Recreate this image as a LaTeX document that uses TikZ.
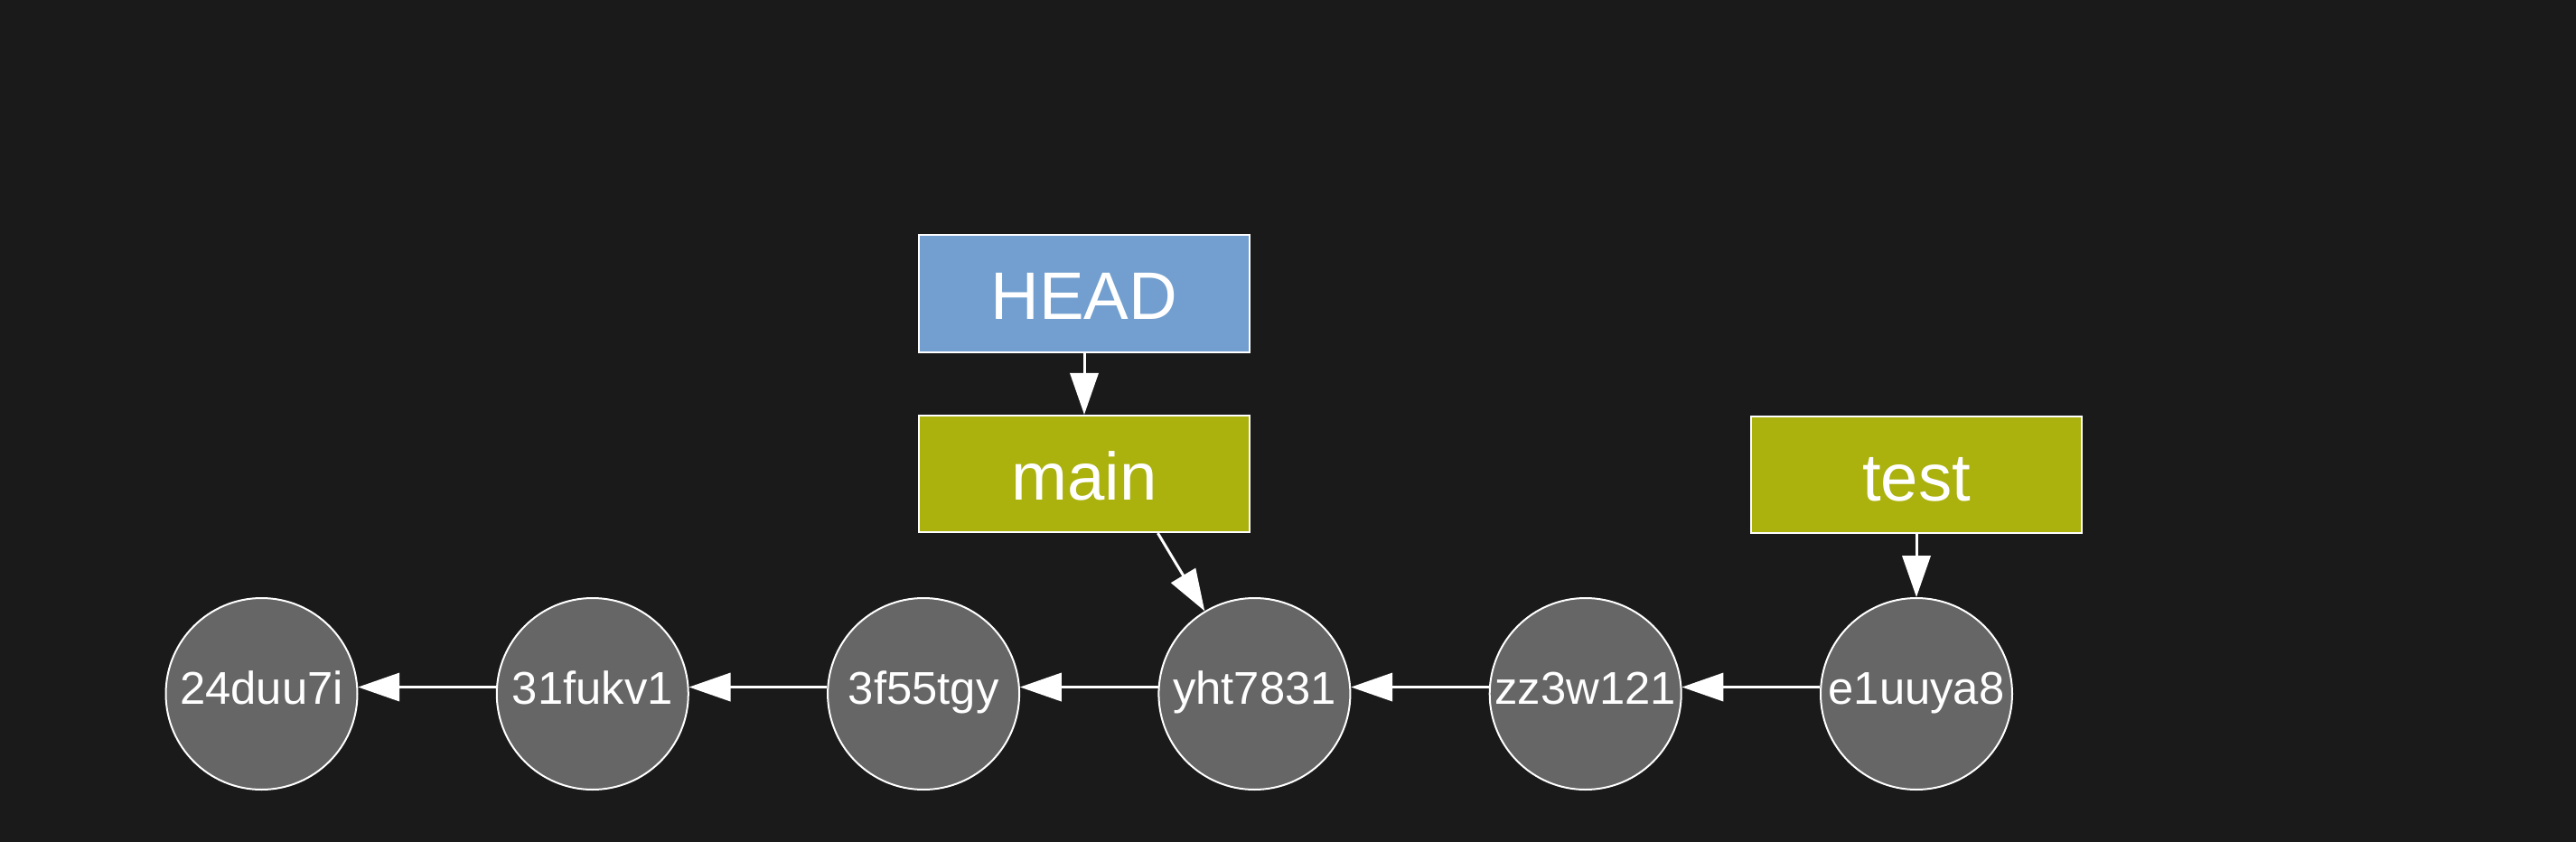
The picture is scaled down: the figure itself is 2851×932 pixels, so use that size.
\documentclass[tikz,border=0pt]{standalone}
\usepackage{fontspec}
\setmainfont{Liberation Sans}
\usetikzlibrary{arrows.meta}
\definecolor{bgdark}{HTML}{1A1A1A}
\definecolor{commitgray}{HTML}{666666}
\definecolor{headblue}{HTML}{729FCF}
\definecolor{brancholive}{HTML}{ABB10D}

\begin{document}
\begin{tikzpicture}[x=0.25pt,y=0.25pt,yscale=-1,xscale=1,
    commit/.style={circle, draw=white, fill=commitgray, line width=0.5pt, minimum size=53pt, inner sep=0pt, text=white, font=\fontsize{12.7}{14}\selectfont, text height=8.9pt, text depth=3pt},
    refbox/.style={rectangle, draw=white, fill=#1, line width=0.5pt, minimum width=91.5pt, minimum height=32.3pt, inner sep=0pt, text=white, font=\fontsize{18.6}{21}\selectfont, text height=17.6pt, text depth=3.3pt},
    link/.style={draw=white, line width=0.75pt, -{Triangle[length=11.5pt,width=7.8pt]}}]
    %set diagram size: 2851 x 932
    \fill [bgdark] (0,0) rectangle (2851,932);

    %Shape: Rectangles (refs)
    \node [refbox=headblue] (HEAD) at (1200,325) {HEAD};
    \node [refbox=brancholive] (main) at (1200,524.5) {main};
    \node [refbox=brancholive] (test) at (2121,525.5) {test};

    %Shape: Circles (commits)
    \node [commit] (c24duu7i) at (289.5,768) {24duu7i};
    \node [commit] (c31fukv1) at (655.8,768) {31fukv1};
    \node [commit] (c3f55tgy) at (1022.1,768) {3f55tgy};
    \node [commit] (yht7831) at (1388.4,768) {yht7831};
    \node [commit] (zz3w121) at (1754.7,768) {zz3w121};
    \node [commit] (e1uuya8) at (2121,768) {e1uuya8};

    %Straight Lines (parents)
    \draw [link] (c31fukv1.176) -- (c24duu7i.4);
    \draw [link] (c3f55tgy.176) -- (c31fukv1.4);
    \draw [link] (yht7831.176) -- (c3f55tgy.4);
    \draw [link] (zz3w121.176) -- (yht7831.4);
    \draw [link] (e1uuya8.176) -- (zz3w121.4);

    %Straight Lines (refs)
    \draw [link] (HEAD) -- (main);
    \draw [link] (main.south -| yht7831.west) -- (yht7831);
    \draw [link] (test) -- (e1uuya8);

\end{tikzpicture}
\end{document}
